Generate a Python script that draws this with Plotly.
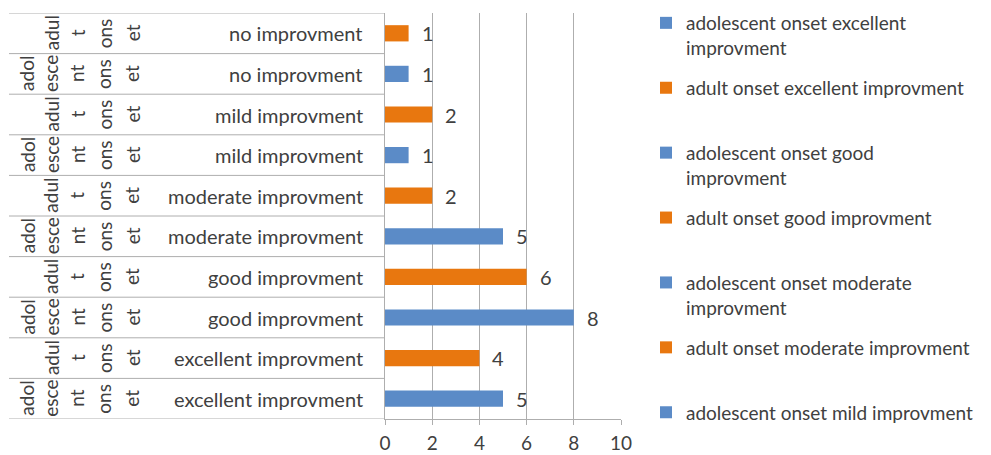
import plotly.graph_objects as go

# ---- data (bottom to top) ----
onset = ["adolescent onset", "adult onset"] * 5
improvement = ["excellent improvment", "excellent improvment",
               "good improvment", "good improvment",
               "moderate improvment", "moderate improvment",
               "mild improvment", "mild improvment",
               "no improvment", "no improvment"]
values = [5, 4, 8, 6, 5, 2, 1, 2, 1, 1]
# how the wrapped, rotated outer labels break in the reference
onset_fragments = {
    "adolescent onset": ["adol", "esce", "nt", "ons", "et"],
    "adult onset": ["adul", "t", "ons", "et"],
}
legend_names = [
    "adolescent onset excellent<br>improvment",
    "adult onset excellent improvment",
    "adolescent onset good<br>improvment",
    "adult onset good improvment",
    "adolescent onset moderate<br>improvment",
    "adult onset moderate improvment",
    "adolescent onset mild improvment",
    "adult onset mild improvment",
    "adolescent onset no improvment",
    "adult onset no improvment",
]
x_ticks = [0, 2, 4, 6, 8, 10]

# ---- styles ----
BLUE = "#5B8BC7"
ORANGE = "#E8770F"
TXT = "#404040"
GRID = "#AEAEAE"
FONT = "Lato, 'Open Sans', sans-serif"
FS = 20
colors = {"adolescent onset": BLUE, "adult onset": ORANGE}

W, H = 991, 455
L, R, T, B = 385, 370, 13, 36
PW = W - L - R
PH = H - T - B

fig = go.Figure()
for i, (o, imp, v) in enumerate(zip(onset, improvement, values)):
    nm = legend_names[i]
    if "<br>" not in nm:
        nm = nm + "<br> "
    fig.add_trace(go.Bar(
        x=[v], y=[i], orientation="h", width=0.4,
        marker=dict(color=colors[o], line=dict(width=0)),
        name=nm, legendgroup=f"g{i}", showlegend=i < 7,
        hoverinfo="x+name",
    ))

annotations = []
# data labels
for i, v in enumerate(values):
    annotations.append(dict(x=v, y=i, xref="x", yref="y", text=str(v),
                            showarrow=False, xanchor="left", xshift=11,
                            font=dict(size=FS, color=TXT, family=FONT)))
# inner category labels
for i, imp in enumerate(improvement):
    annotations.append(dict(x=0, y=i, xref="paper", yref="y", text=imp,
                            showarrow=False, xanchor="right", xshift=-20,
                            font=dict(size=FS, color=TXT, family=FONT)))
# outer category labels (rotated, wrapped)
frag_cols = {5: [27, 51, 77, 104, 132], 4: [51, 77, 104, 132]}
for i, o in enumerate(onset):
    frs = onset_fragments[o]
    cols = frag_cols[len(frs)]
    for fr, c in zip(frs, cols):
        annotations.append(dict(x=0, y=i, xref="paper", yref="y", text=fr,
                                showarrow=False, textangle=-90,
                                xanchor="center", yanchor="middle",
                                xshift=c - L,
                                font=dict(size=19, color=TXT, family=FONT)))

shapes = []
x_left = (9 - L) / PW
for k in range(len(values) + 1):
    shapes.append(dict(type="line", xref="paper", yref="y",
                       x0=x_left, x1=0, y0=k - 0.5, y1=k - 0.5,
                       line=dict(color=GRID, width=1)))

fig.update_layout(
    width=W, height=H,
    margin=dict(l=L, r=R, t=T, b=B, pad=0, autoexpand=False),
    paper_bgcolor="white", plot_bgcolor="white",
    barmode="overlay",
    font=dict(family=FONT, color=TXT, size=FS),
    xaxis=dict(range=[0, 10], tickvals=x_ticks, showgrid=True,
               gridcolor=GRID, gridwidth=1, zeroline=False,
               showline=True, linecolor=GRID, linewidth=1,
               ticks="outside", ticklen=5, tickcolor=GRID,
               ticklabelstandoff=2,
               tickfont=dict(size=19, color=TXT, family=FONT)),
    yaxis=dict(range=[-0.5, len(values) - 0.5], showticklabels=False,
               showgrid=False, zeroline=False, showline=True,
               linecolor=GRID, linewidth=1, ticks=""),
    legend=dict(x=(646 - L) / PW, y=1 + (T - 4) / PH,
                xanchor="left", yanchor="top", traceorder="grouped",
                tracegroupgap=12.5, valign="top", maxheight=H,
                font=dict(size=19, color=TXT, family=FONT),
                bgcolor="rgba(0,0,0,0)"),
    annotations=annotations,
    shapes=shapes,
    showlegend=True,
)

fig.write_html("out.html")
